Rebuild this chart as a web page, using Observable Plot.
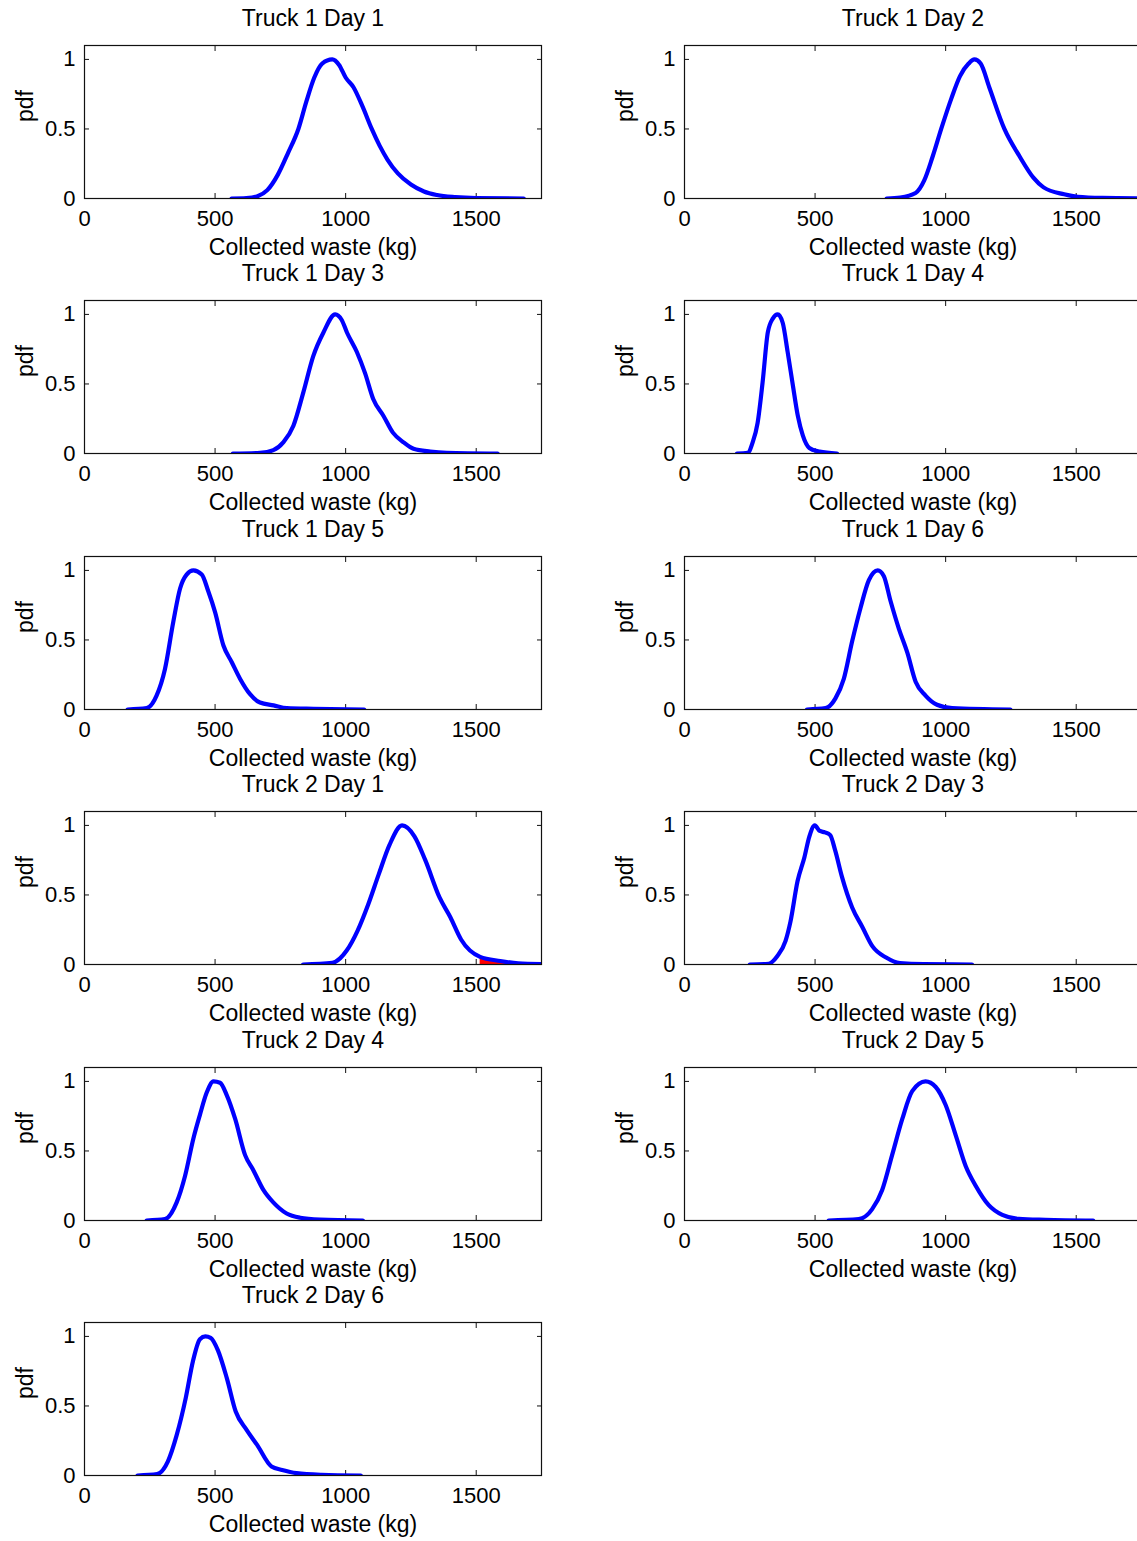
<!DOCTYPE html>
<html>
<head>
<meta charset="utf-8">
<script src="https://cdn.jsdelivr.net/npm/d3@7"></script>
<script src="https://cdn.jsdelivr.net/npm/@observablehq/plot@0.6"></script>
<style>
html, body { margin: 0; padding: 0; background: #fff; }
#chart { position: relative; width: 1137px; height: 1541px; overflow: hidden; background: #fff; font-family: "Liberation Sans", Arial, Helvetica, sans-serif; }
#chart svg { position: absolute; }
</style>
</head>
<body>
<div id="chart"></div>
<script>
// ---- tick labels / axis text ----
const xTicks = [0, 500, 1000, 1500];
const yTicks = [0, 0.5, 1];
const xDomain = [0, 1750];
const yDomain = [0, 1.1];
const xLabel = "Collected waste (kg)";
const yLabel = "pdf";
const overflowThreshold = 1515; // red tail shaded in Truck 2 Day 1

// ---- series values: [collected waste (kg), normalised pdf] ----
const t1d1 = [[563,0],[620,0.003],[660,0.015],[700,0.06],[740,0.17],[780,0.33],[819,0.5],[850,0.7],[880,0.87],[910,0.97],[949,1],[975,0.96],[1000,0.87],[1030,0.8],[1065,0.66],[1100,0.5],[1130,0.38],[1160,0.28],[1200,0.18],[1250,0.1],[1300,0.05],[1350,0.025],[1420,0.01],[1500,0.003],[1682,0]];
const t1d2 = [[774,0],[826,0.007],[885,0.04],[918,0.13],[950,0.3],[983,0.5],[1022,0.72],[1055,0.88],[1088,0.97],[1110,1],[1134,0.97],[1167,0.8],[1225,0.5],[1284,0.3],[1336,0.15],[1375,0.08],[1454,0.03],[1506,0.012],[1600,0.004],[1750,0.001]];
const t1d3 = [[568,0],[672,0.005],[723,0.024],[761,0.08],[800,0.2],[838,0.44],[876,0.7],[915,0.87],[960,1],[985,0.96],[1005,0.87],[1043,0.73],[1074,0.58],[1106,0.39],[1145,0.27],[1181,0.15],[1222,0.08],[1260,0.034],[1324,0.014],[1387,0.005],[1582,0]];
const t1d4 = [[201,0],[242,0.005],[261,0.08],[280,0.22],[299,0.51],[319,0.87],[338,0.97],[357,1],[376,0.94],[395,0.73],[415,0.49],[434,0.27],[453,0.13],[478,0.04],[517,0.014],[584,0]];
const t1d5 = [[165,0],[238,0.01],[276,0.1],[308,0.29],[340,0.63],[366,0.87],[391,0.97],[417,1],[449,0.97],[474,0.85],[500,0.7],[532,0.46],[564,0.34],[596,0.22],[634,0.11],[672,0.05],[724,0.03],[775,0.01],[877,0.005],[1071,0]];
const t1d6 = [[469,0],[540,0.01],[578,0.08],[610,0.22],[642,0.49],[674,0.73],[706,0.93],[740,1],[763,0.96],[789,0.78],[821,0.58],[853,0.41],[885,0.2],[923,0.1],[967,0.034],[1025,0.01],[1248,0]];
const t2d1 = [[837,0],[949,0.012],[1004,0.1],[1045,0.24],[1086,0.43],[1127,0.65],[1168,0.86],[1216,1],[1264,0.92],[1305,0.75],[1360,0.48],[1401,0.34],[1442,0.18],[1515,0.055],[1592,0.025],[1661,0.008],[1750,0.003]];
const t2d3 = [[250,0],[322,0.005],[355,0.06],[387,0.17],[406,0.31],[433,0.6],[459,0.77],[478,0.92],[499,1],[518,0.96],[538,0.95],[558,0.93],[577,0.82],[603,0.63],[642,0.41],[681,0.27],[720,0.13],[772,0.05],[825,0.01],[916,0.002],[1101,0]];
const t2d4 = [[238,0],[308,0.01],[353,0.13],[385,0.32],[417,0.59],[442,0.76],[468,0.92],[494,1],[519,0.99],[545,0.9],[577,0.73],[615,0.47],[647,0.36],[685,0.22],[723,0.13],[774,0.05],[826,0.02],[902,0.007],[1066,0]];
const t2d5 = [[552,0],[667,0.01],[718,0.08],[757,0.22],[795,0.47],[834,0.73],[872,0.93],[923,1],[962,0.96],[1000,0.83],[1039,0.61],[1077,0.39],[1115,0.25],[1165,0.11],[1217,0.04],[1280,0.012],[1382,0.005],[1565,0]];
const t2d6 = [[203,0],[278,0.01],[319,0.1],[353,0.29],[388,0.56],[415,0.82],[442,0.98],[463,1],[483,0.99],[511,0.9],[545,0.7],[579,0.46],[620,0.33],[661,0.22],[716,0.065],[757,0.04],[812,0.017],[908,0.005],[1058,0]];

const titles = ["Truck 1 Day 1","Truck 1 Day 2","Truck 1 Day 3","Truck 1 Day 4","Truck 1 Day 5","Truck 1 Day 6","Truck 2 Day 1","Truck 2 Day 3","Truck 2 Day 4","Truck 2 Day 5","Truck 2 Day 6"];
const series = [t1d1, t1d2, t1d3, t1d4, t1d5, t1d6, t2d1, t2d3, t2d4, t2d5, t2d6];
const shadedPanel = "Truck 2 Day 1";

// ---- layout ----
const colW = 600, rowH = 255.4;
const svgW = 600, svgH = 268;
const mL = 84, mR = 59, mT = 45, mB = svgH - 45 - 153;
const fontTick = 22, fontLab = 23;
const container = document.getElementById("chart");

titles.forEach((title, i) => {
  const data = series[i];
  const col = i % 2, row = Math.floor(i / 2);
  const X = d => d[0], Y = d => d[1];
  const marks = [
    Plot.axisX(xTicks, {anchor: "bottom", tickSize: -5, tickFormat: () => "", label: null}),
    Plot.axisX(xTicks, {anchor: "top", tickSize: -5, tickFormat: () => "", label: null}),
    Plot.axisY(yTicks, {anchor: "left", tickSize: -5, tickFormat: () => "", label: null}),
    Plot.axisY(yTicks, {anchor: "right", tickSize: -5, tickFormat: () => "", label: null}),
    Plot.axisX(xTicks, {anchor: "bottom", tickSize: 0, tickPadding: 12, fontSize: fontTick, fill: "#000", tickFormat: d => String(d), label: null}),
    Plot.axisY(yTicks, {anchor: "left", tickSize: 0, tickPadding: 9, fontSize: fontTick, fill: "#000", tickFormat: d => String(d), label: null})
  ];
  if (title === shadedPanel) {
    marks.push(Plot.areaY(data.filter(d => d[0] >= overflowThreshold), {x: X, y: Y, fill: "#ff0000", curve: "monotone-x", clip: true}));
  }
  marks.push(
    Plot.line(data, {x: X, y: Y, stroke: "#0000ff", strokeWidth: 4.2, curve: "monotone-x", clip: true}),
    Plot.frame({stroke: "#111", strokeWidth: 1.2}),
    Plot.text([title], {text: d => d, frameAnchor: "top", dy: -27, lineAnchor: "middle", fontSize: fontLab, fill: "#000"}),
    Plot.text([xLabel], {text: d => d, frameAnchor: "bottom", dy: 49, lineAnchor: "middle", fontSize: fontLab, fill: "#000"}),
    Plot.text([yLabel], {text: d => d, frameAnchor: "left", dx: -59, rotate: -90, lineAnchor: "middle", fontSize: fontLab, fill: "#000"})
  );
  const svg = Plot.plot({
    width: svgW,
    height: svgH,
    marginLeft: mL,
    marginRight: mR,
    marginTop: mT,
    marginBottom: mB,
    x: {domain: xDomain},
    y: {domain: yDomain},
    style: {background: "transparent", overflow: "visible", fontFamily: "'Liberation Sans', Arial, Helvetica, sans-serif", color: "#111"},
    marks
  });
  svg.style.left = (col * colW) + "px";
  svg.style.top = (row * rowH) + "px";
  svg.style.maxWidth = "none";
  container.appendChild(svg);
});
</script>
</body>
</html>
